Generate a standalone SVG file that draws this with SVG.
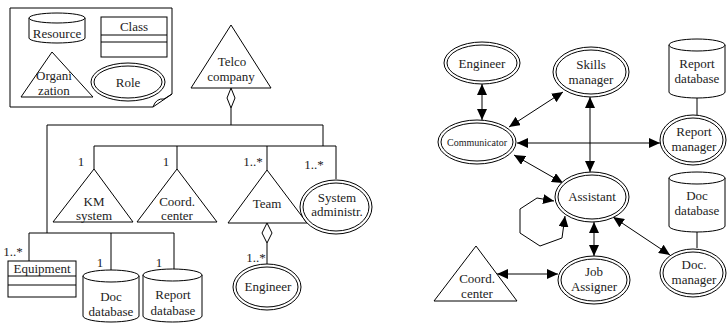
<svg xmlns="http://www.w3.org/2000/svg" width="727" height="325" viewBox="0 0 727 325">
  <style>
    .ln { fill: none; stroke: #000; stroke-width: 1; }
    .sh { fill: #fff; stroke: #000; stroke-width: 1; }
    .t { font-family: 'Liberation Serif', Tinos, 'Times New Roman', Times, 'DejaVu Serif', serif; font-size: 13px; fill: #222; text-anchor: middle; }
    .s { font-size: 10px; }
  </style>
  <defs>
    <marker id="ah" markerWidth="11" markerHeight="10" refX="11" refY="5" orient="auto-start-reverse" markerUnits="userSpaceOnUse">
      <path d="M0,0 L11,5 L0,10 Z" fill="#000"/>
    </marker>
  </defs>

  <!-- Legend sheet -->
  <g id="legend">
    <path class="sh" d="M10,8 H172 V94 L153,107 H10 Z"/>
    <path class="ln" d="M153,107 Q156,98 164,99 L172,94"/>
    <g id="legend-resource">
      <path class="sh" d="M29,18 V38 A28,5 0 0,0 85,38 V18"/>
      <ellipse class="sh" cx="57" cy="18" rx="28" ry="5"/>
      <text class="t" x="57" y="38">Resource</text>
    </g>
    <g id="legend-class">
      <rect class="sh" x="101" y="17" width="66" height="40"/>
      <line class="ln" x1="101" y1="35" x2="167" y2="35"/>
      <line class="ln" x1="101" y1="42" x2="167" y2="42"/>
      <text class="t" x="134" y="31">Class</text>
    </g>
    <g id="legend-organization">
      <polygon class="sh" points="52,52 93,97 21,97"/>
      <text class="t" x="54" y="80">Organi</text>
      <text class="t" x="54" y="94.5">zation</text>
    </g>
    <g id="legend-role">
      <ellipse class="sh" cx="128" cy="82" rx="37" ry="19"/>
      <ellipse class="ln" cx="128" cy="82" rx="34" ry="16"/>
      <text class="t" x="128" y="87">Role</text>
    </g>
  </g>

  <!-- Organisation structure: connectors -->
  <g id="structure-links">
    <path class="sh" d="M231,88 L235,98 L231,108 L227,98 Z"/>
    <path class="ln" d="M231,108 V125 M47,125 H323 V146 M94,146 H336 V179 M94,146 V169 M177,146 V169 M267,146 V170"/>
    <path class="ln" d="M47,125 V233 M29,233 H174 M29,233 V261 M111,233 V270 M174,233 V269"/>
    <path class="sh" d="M267,223 L272,233 L267,243 L262,233 Z"/>
    <line class="ln" x1="267" y1="243" x2="267" y2="264"/>
    <text class="t" x="81" y="166">1</text>
    <text class="t" x="166" y="166">1</text>
    <text class="t" x="253" y="166">1..*</text>
    <text class="t" x="314" y="169">1..*</text>
    <text class="t" x="13" y="256">1..*</text>
    <text class="t" x="100" y="267">1</text>
    <text class="t" x="159" y="267">1</text>
    <text class="t" x="256" y="262">1..*</text>
  </g>

  <g id="telco-company">
    <polygon class="sh" points="231,25 271,88 191,88"/>
    <text class="t" x="232" y="66">Telco</text>
    <text class="t" x="231" y="81">company</text>
  </g>
  <g id="km-system">
    <polygon class="sh" points="94,169 133,222 53,222"/>
    <text class="t" x="94" y="206">KM</text>
    <text class="t" x="94" y="220">system</text>
  </g>
  <g id="coord-center-a">
    <polygon class="sh" points="177,169 217,222 137,222"/>
    <text class="t" x="177" y="206">Coord.</text>
    <text class="t" x="177" y="220">center</text>
  </g>
  <g id="team">
    <polygon class="sh" points="267,170 307,223 228,223"/>
    <text class="t" x="267" y="208">Team</text>
  </g>
  <g id="system-admin">
    <ellipse class="sh" cx="336" cy="207" rx="36" ry="27"/>
    <ellipse class="ln" cx="336" cy="207" rx="33" ry="24"/>
    <text class="t" x="337" y="202">System</text>
    <text class="t" x="337" y="216">administr.</text>
  </g>
  <g id="engineer-a">
    <ellipse class="sh" cx="267" cy="287" rx="34" ry="23"/>
    <ellipse class="ln" cx="267" cy="287" rx="31" ry="20"/>
    <text class="t" x="268" y="291">Engineer</text>
  </g>
  <g id="equipment">
    <rect class="sh" x="8" y="261" width="68" height="36"/>
    <line class="ln" x1="8" y1="276" x2="76" y2="276"/>
    <line class="ln" x1="8" y1="285" x2="76" y2="285"/>
    <text class="t" x="42" y="273">Equipment</text>
  </g>
  <g id="doc-database-a">
    <path class="sh" d="M83,276 V316 A28,6 0 0,0 139,316 V276"/>
    <ellipse class="sh" cx="111" cy="276" rx="28" ry="6"/>
    <text class="t" x="111" y="301">Doc</text>
    <text class="t" x="111" y="316">database</text>
  </g>
  <g id="report-database-a">
    <path class="sh" d="M143,275 V316 A29.5,6 0 0,0 202,316 V275"/>
    <ellipse class="sh" cx="172.5" cy="275" rx="29.5" ry="6"/>
    <text class="t" x="173" y="299">Report</text>
    <text class="t" x="173" y="315">database</text>
  </g>

  <!-- Agent architecture: connectors -->
  <g id="agent-links">
    <line class="ln" x1="482" y1="84" x2="482" y2="120" marker-start="url(#ah)" marker-end="url(#ah)"/>
    <line class="ln" x1="563" y1="92" x2="509" y2="127" marker-start="url(#ah)" marker-end="url(#ah)"/>
    <line class="ln" x1="517" y1="143" x2="660" y2="143" marker-start="url(#ah)" marker-end="url(#ah)"/>
    <line class="ln" x1="590" y1="97" x2="590" y2="172" marker-start="url(#ah)" marker-end="url(#ah)"/>
    <line class="ln" x1="514" y1="155" x2="563" y2="183" marker-start="url(#ah)" marker-end="url(#ah)"/>
    <polyline class="ln" points="554,201 537,198 520,209 520,233 540,246 562,238 565,216" marker-start="url(#ah)" marker-end="url(#ah)"/>
    <line class="ln" x1="594" y1="222" x2="594" y2="256" marker-start="url(#ah)" marker-end="url(#ah)"/>
    <line class="ln" x1="497" y1="274" x2="558" y2="274" marker-start="url(#ah)" marker-end="url(#ah)"/>
    <line class="ln" x1="613" y1="217" x2="670" y2="255" marker-start="url(#ah)" marker-end="url(#ah)"/>
    <line class="ln" x1="697" y1="98" x2="697" y2="115"/>
    <line class="ln" x1="697" y1="232" x2="697" y2="248"/>
  </g>

  <g id="engineer-b">
    <ellipse class="sh" cx="482" cy="63" rx="38" ry="21"/>
    <ellipse class="ln" cx="482" cy="63" rx="35" ry="18"/>
    <text class="t" x="482" y="68">Engineer</text>
  </g>
  <g id="communicator">
    <ellipse class="sh" cx="477" cy="142" rx="39" ry="22"/>
    <ellipse class="ln" cx="477" cy="142" rx="36" ry="19"/>
    <text class="t s" x="477" y="146">Communicator</text>
  </g>
  <g id="skills-manager">
    <ellipse class="sh" cx="591" cy="72" rx="38" ry="25"/>
    <ellipse class="ln" cx="591" cy="72" rx="35" ry="22"/>
    <text class="t" x="591" y="69">Skills</text>
    <text class="t" x="591" y="84">manager</text>
  </g>
  <g id="report-database-b">
    <path class="sh" d="M669,45 V92 A28,6 0 0,0 725,92 V45"/>
    <ellipse class="sh" cx="697" cy="45" rx="28" ry="6"/>
    <text class="t" x="697" y="68">Report</text>
    <text class="t" x="697" y="83">database</text>
  </g>
  <g id="report-manager">
    <ellipse class="sh" cx="693" cy="140" rx="33" ry="25"/>
    <ellipse class="ln" cx="693" cy="140" rx="30" ry="22"/>
    <text class="t" x="694" y="136">Report</text>
    <text class="t" x="694" y="151">manager</text>
  </g>
  <g id="assistant">
    <ellipse class="sh" cx="592" cy="197" rx="37" ry="25"/>
    <ellipse class="ln" cx="592" cy="197" rx="34" ry="22"/>
    <text class="t" x="592" y="201">Assistant</text>
  </g>
  <g id="doc-database-b">
    <path class="sh" d="M669,178 V226 A28,6 0 0,0 725,226 V178"/>
    <ellipse class="sh" cx="697" cy="178" rx="28" ry="6"/>
    <text class="t" x="697" y="200">Doc</text>
    <text class="t" x="697" y="215">database</text>
  </g>
  <g id="doc-manager">
    <ellipse class="sh" cx="693" cy="273" rx="33" ry="24"/>
    <ellipse class="ln" cx="693" cy="273" rx="30" ry="21"/>
    <text class="t" x="694" y="269">Doc.</text>
    <text class="t" x="694" y="284">manager</text>
  </g>
  <g id="job-assigner">
    <ellipse class="sh" cx="594" cy="280" rx="36" ry="24"/>
    <ellipse class="ln" cx="594" cy="280" rx="33" ry="21"/>
    <text class="t" x="594" y="276">Job</text>
    <text class="t" x="594" y="291">Assigner</text>
  </g>
  <g id="coord-center-b">
    <polygon class="sh" points="476,246 517,301 434,301"/>
    <text class="t" x="477" y="283">Coord.</text>
    <text class="t" x="477" y="298">center</text>
  </g>
</svg>
